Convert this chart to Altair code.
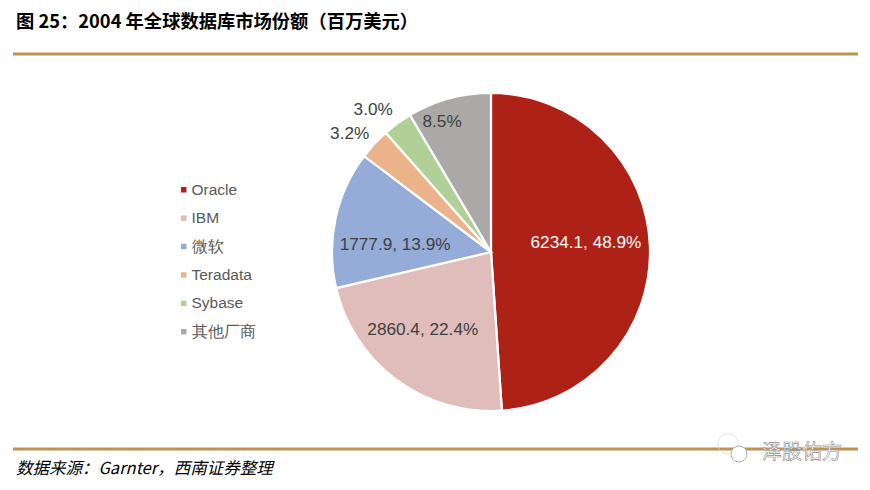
import math
import altair as alt
import pandas as pd

categories = ["Oracle", "IBM", "微软", "Teradata", "Sybase", "其他厂商"]
values = [6234.1, 2860.4, 1777.9, 408.0, 382.0, 1084.0]
labels = ["6234.1, 48.9%", "2860.4, 22.4%", "1777.9, 13.9%", "3.2%", "3.0%", "8.5%"]
colors = ["#AE2116", "#E0BCBB", "#95ABD8", "#EAB38A", "#B0D098", "#ABA9A7"]
label_colors = ["#FFFFFF", "#404040", "#404040", "#404040", "#404040", "#404040"]
title_text = "图 25：2004 年全球数据库市场份额（百万美元）"
source_text = "数据来源：Garnter，西南证券整理"
mark_text = "泽股佑方"

total = sum(values)
rows, acc = [], 0.0
for i, (c, v, l) in enumerate(zip(categories, values, labels)):
    start = acc / total * 2 * math.pi
    acc += v
    end = acc / total * 2 * math.pi
    rows.append({"cat": c, "order": i, "value": v, "label": l,
                 "start": start, "end": end, "mid": (start + end) / 2})
df = pd.DataFrame(rows)

CX, CY, R = 483, 244, 159
FONT = "Liberation Sans"
CJK = "Noto Sans CJK SC"
GOLD = "#BC9352"

pie = alt.Chart(df).mark_arc(radius=R, stroke="white", strokeWidth=2.2).encode(
    x=alt.value(CX), y=alt.value(CY),
    theta=alt.Theta("start:Q", scale=None),
    theta2="end:Q",
    color=alt.Color("cat:N", sort=categories,
                    scale=alt.Scale(domain=categories, range=colors),
                    legend=alt.Legend(
                        title=None, orient="none", legendX=168, legendY=174,
                        symbolType="square", symbolSize=30, symbolStrokeWidth=0,
                        labelFont=FONT, labelFontSize=15.5, labelColor="#595959",
                        rowPadding=11.4, labelOffset=0, symbolOffset=0,
                    )),
    order=alt.Order("order:Q"),
)

# label radius and nudge per slice
placement = [(97, -2, -6), (103, -7, -5), (97, -1, 13), (190, -2, 11), (180, -12, 4), (136, -13, 1)]
label_layers = []
for cat, col, (r, dx, dy) in zip(categories, label_colors, placement):
    label_layers.append(
        alt.Chart(df).transform_filter(alt.datum.cat == cat)
        .mark_text(radius=r, dx=dx, dy=dy, font=FONT, fontSize=17.2, color=col)
        .encode(x=alt.value(CX), y=alt.value(CY),
                theta=alt.Theta("mid:Q", scale=None), text="label:N")
    )


def txt(s, x, y, **kw):
    return alt.Chart(pd.DataFrame({"t": [s]})).mark_text(**kw).encode(
        x=alt.value(x), y=alt.value(y), text="t:N")


def rule(y):
    return alt.Chart(pd.DataFrame({"a": [0]})).mark_rule(color=GOLD, strokeWidth=3).encode(
        x=alt.value(5), x2=alt.value(850), y=alt.value(y))


title = txt(title_text, 8, 15, font=CJK, fontSize=18.3, fontWeight="bold",
            align="left", baseline="middle", color="#000000")
source = txt(source_text, 8, 461, font=CJK, fontSize=16.5, fontStyle="italic",
             align="left", baseline="middle", color="#000000")
water = txt(mark_text, 754, 445, font=CJK, fontSize=20, align="left", baseline="middle",
            color="#FFFFFF", stroke="#8C8C8C", strokeWidth=0.6)
icon_a = alt.Chart(pd.DataFrame({"a": [0]})).mark_point(
    shape="circle", size=415, filled=False, color="#D8D8D8", strokeWidth=1
).encode(x=alt.value(720), y=alt.value(436))
icon_b = alt.Chart(pd.DataFrame({"a": [0]})).mark_point(
    shape="circle", size=254, filled=True, fill="#FFFFFF", stroke="#B0B0B0", strokeWidth=1, opacity=1
).encode(x=alt.value(731), y=alt.value(446))

chart = alt.layer(rule(46), rule(441), icon_a, icon_b, water, title, source, pie, *label_layers).properties(
    width=854, height=474, padding=0,
    autosize=alt.AutoSizeParams(type="none"),
    view=alt.ViewConfig(stroke="transparent", strokeWidth=0),
).configure_view(stroke="transparent", strokeWidth=0).configure(background="white")

chart.save("out.html", embed_options={"renderer": "svg", "actions": False})
